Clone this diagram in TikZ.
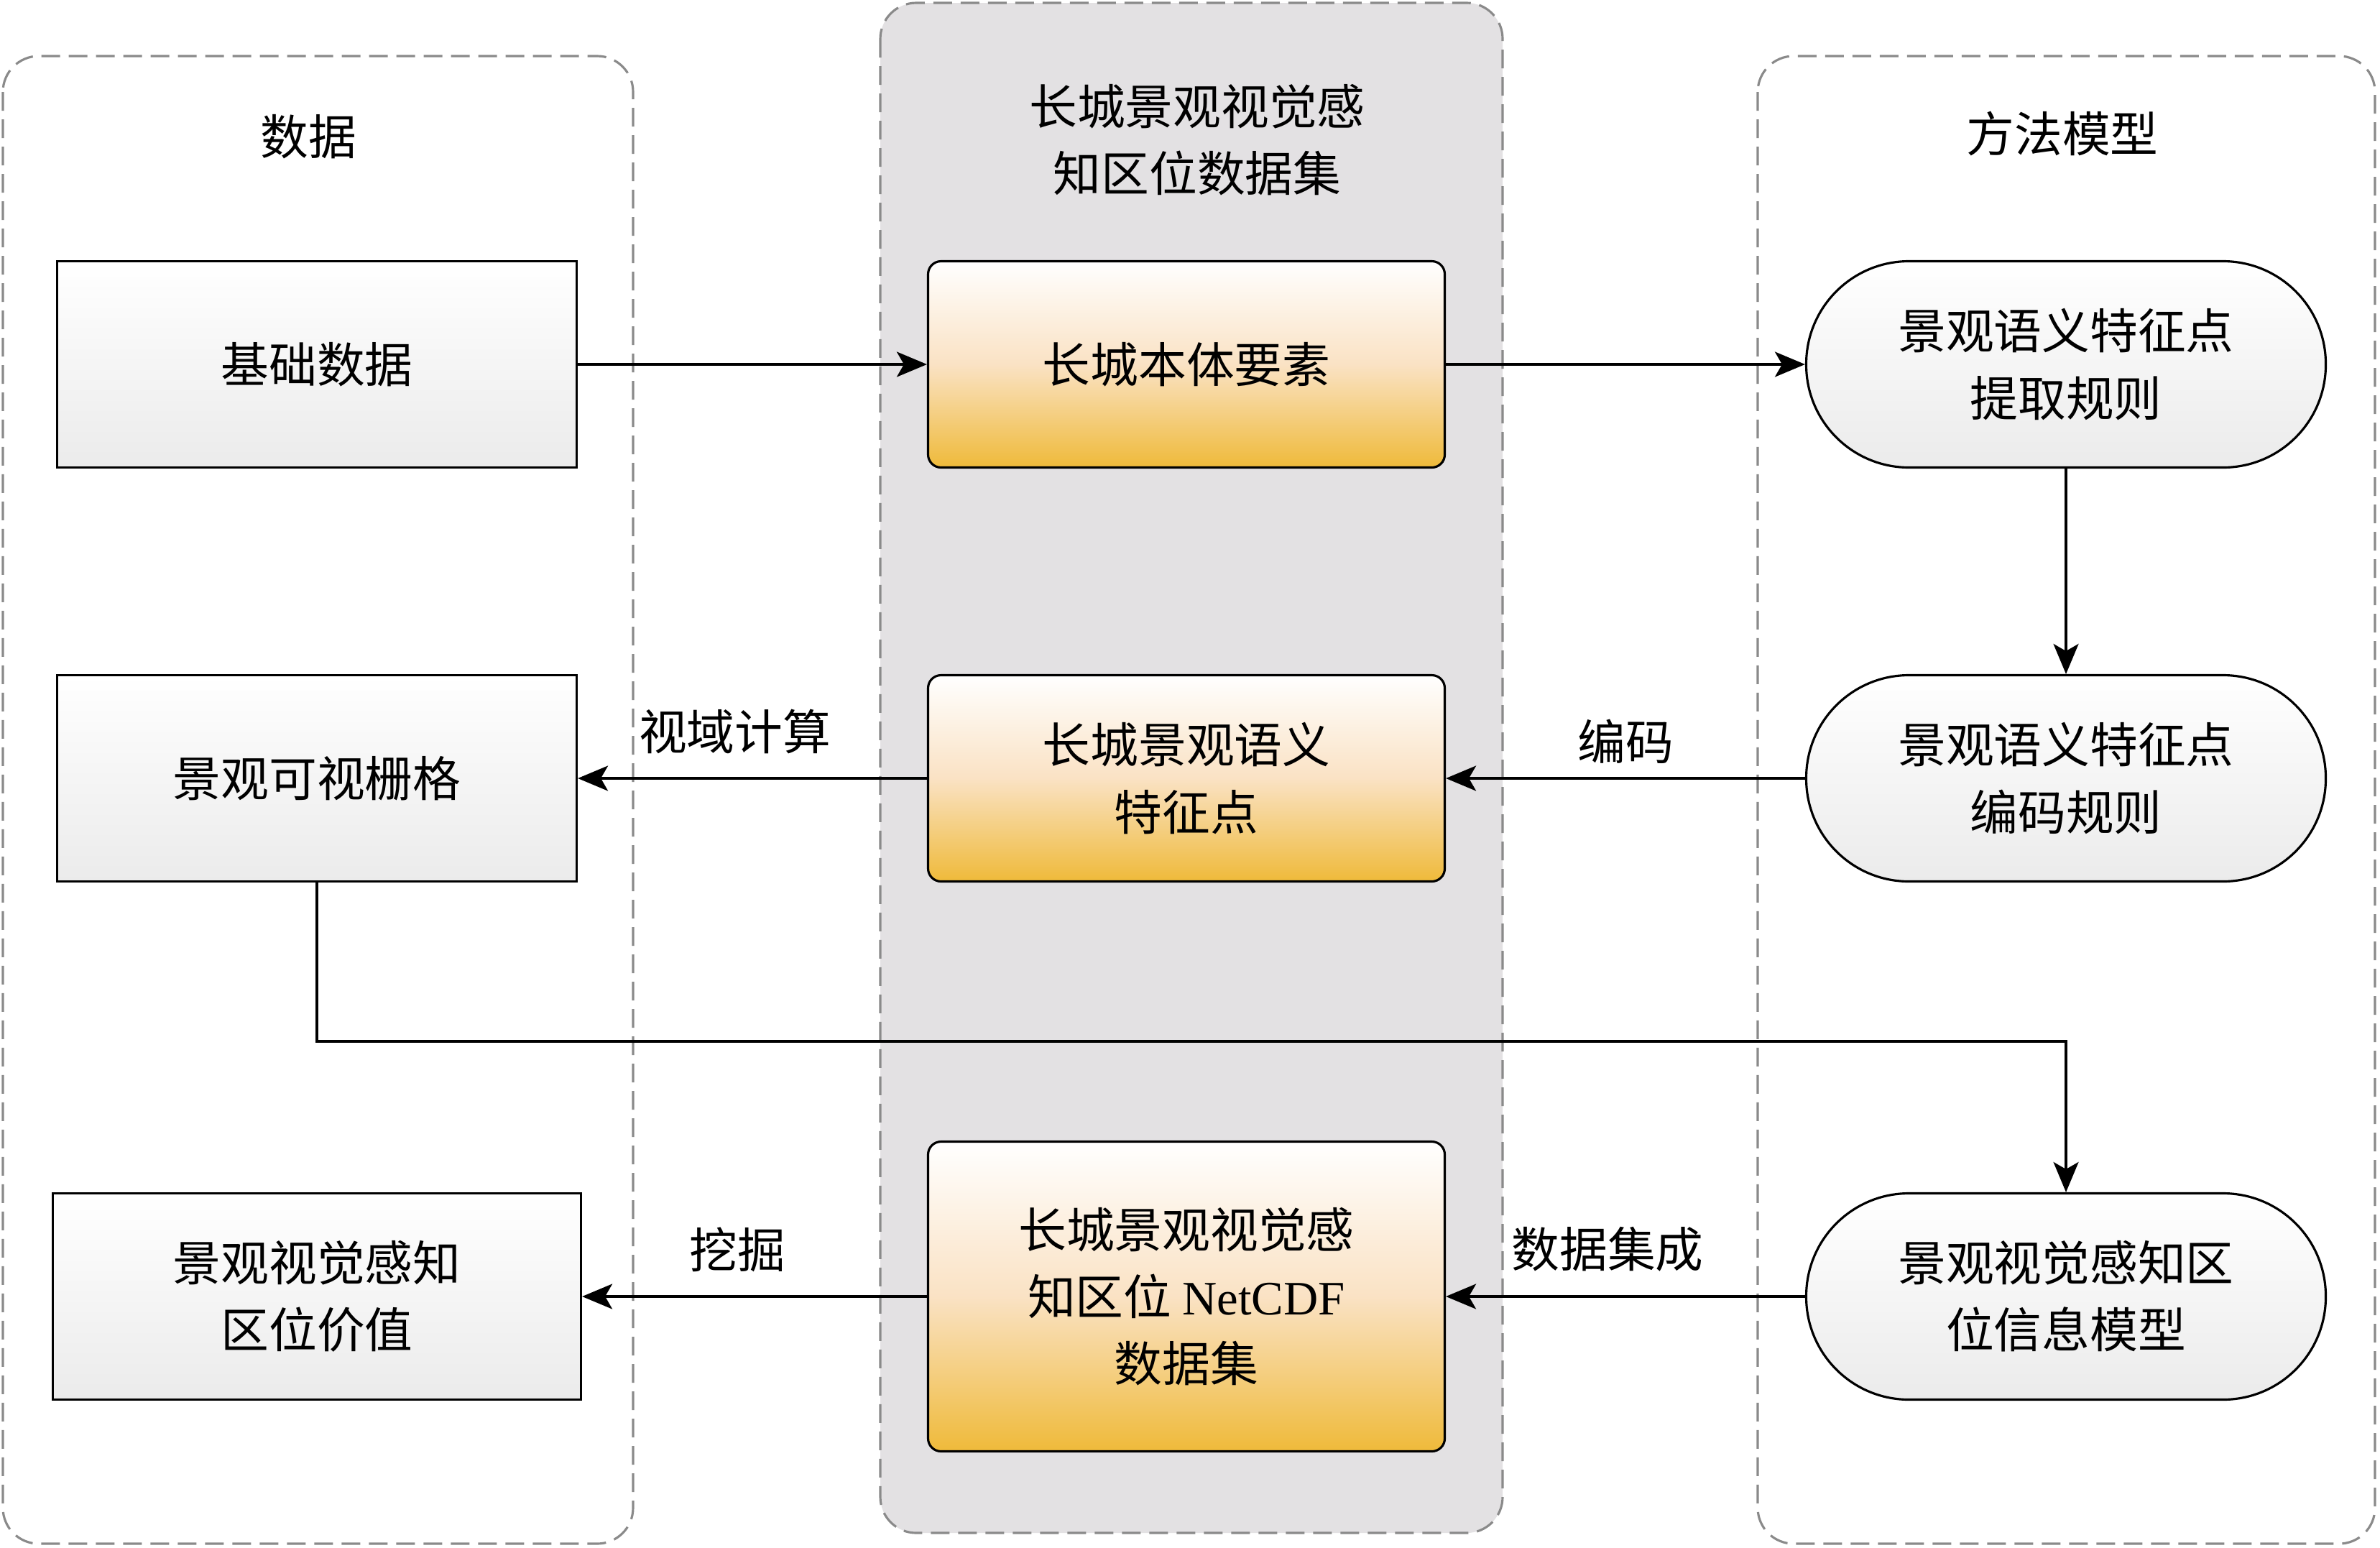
\documentclass[tikz,border=0pt]{standalone}
\usepackage{fontspec}
\setmainfont{Noto Sans CJK SC}
\newfontfamily\latinfont{Liberation Serif}
\usetikzlibrary{arrows.meta,positioning}
\definecolor{panelgray}{RGB}{227,225,227}
\definecolor{dashgray}{RGB}{138,138,138}
\definecolor{boxgold}{RGB}{239,186,58}
\definecolor{boxpeach}{RGB}{250,226,196}
\definecolor{boxlight}{RGB}{235,235,235}

\begin{document}
\begin{tikzpicture}[
  font=\fontsize{19pt}{26.5pt}\selectfont,
  panel/.style={draw=dashgray,line width=0.9pt,dash pattern=on 0.26cm off 0.12cm,rounded corners=0.5cm},
  databox/.style={draw,line width=0.9pt,minimum width=7.23cm,minimum height=2.87cm,top color=white,bottom color=boxlight,align=center},
  goldbox/.style={draw,line width=0.9pt,rounded corners=0.18cm,minimum width=7.19cm,minimum height=2.87cm,top color=white,bottom color=boxgold,middle color=boxpeach,align=center},
  rulebox/.style={draw,line width=0.9pt,rounded corners=1.43cm,minimum width=7.23cm,minimum height=2.87cm,top color=white,bottom color=boxlight,align=center},
  flow/.style={-{Stealth[length=0.42cm,width=0.35cm,inset=0.1cm]},line width=0.9pt},
  tag/.style={pos=0.55,above=6pt}
]
    \useasboundingbox (0,0) rectangle (33.12,-21.53);
    \draw[panel] (0.04,-0.78) rectangle (8.81,-21.48);
    \draw[panel,fill=panelgray] (12.25,-0.04) rectangle (20.91,-21.33);
    \draw[panel] (24.46,-0.78) rectangle (33.05,-21.48);

    \node (shuju) at (4.29,-1.90) {数据};
    \node[align=center] (jihe) at (16.66,-1.95) {长城景观视觉感\\知区位数据集};
    \node (fangfa) at (28.70,-1.86) {方法模型};

    \node[databox] (jichu) at (4.41,-5.07) {基础数据};
    \node[databox] (shange) at (4.41,-10.83) {景观可视栅格};
    \node[databox,minimum width=7.35cm] (jiazhi) at (4.41,-18.04) {景观视觉感知\\区位价值};

    \node[goldbox] (benti) at (16.51,-5.07) {长城本体要素};
    \node[goldbox] (yuyi) at (16.51,-10.83) {长城景观语义\\特征点};
    \node[goldbox,minimum height=4.31cm] (netcdf) at (16.51,-18.04) {长城景观视觉感\\知区位 {\latinfont NetCDF}\\数据集};

    \node[rulebox] (tiqu) at (28.75,-5.07) {景观语义特征点\\提取规则};
    \node[rulebox] (bianma) at (28.75,-10.83) {景观语义特征点\\编码规则};
    \node[rulebox] (moxing) at (28.75,-18.04) {景观视觉感知区\\位信息模型};

    \coordinate (zhe) at (4.41,-14.49);

    \draw[flow] (jichu) -- (benti);
    \draw[flow] (benti) -- (tiqu);
    \draw[flow] (tiqu) -- (bianma);
    \draw[flow] (bianma) -- node[tag,pos=0.5,above=2pt]{编码} (yuyi);
    \draw[flow] (yuyi) -- node[tag]{视域计算} (shange);
    \draw[flow] (shange.south) -- (zhe) -| (moxing.north);
    \draw[flow] (moxing) -- node[tag]{数据集成} (netcdf);
    \draw[flow] (netcdf) -- node[tag]{挖掘} (jiazhi);
\end{tikzpicture}
\end{document}
